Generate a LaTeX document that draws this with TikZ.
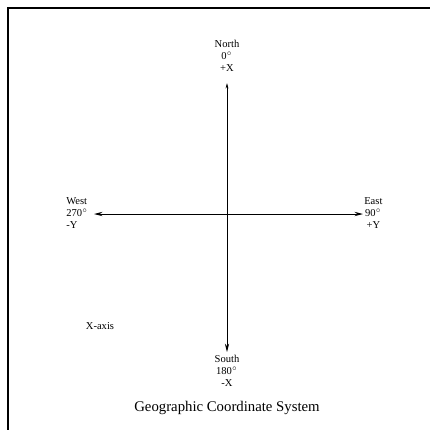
\documentclass[tikz,border=0pt]{standalone}
\usepackage{fontspec}
\setmainfont{Liberation Serif}
\usetikzlibrary{arrows.meta, positioning}

\begin{document}
\begin{tikzpicture}[x=0.025cm, y=-0.025cm, every node/.style={inner sep=0pt, font=\fontsize{7.5}{8.5}\selectfont, align=center}]
  \useasboundingbox (0,0) rectangle (430,430);
  % frame
  \draw[line width=0.8pt] (8,430) -- (8,8) -- (430,8);
  % axis ends
  \coordinate (c) at (227,214);
  \coordinate (n) at (227,83);
  \coordinate (s) at (227,352);
  \coordinate (w) at (94,214);
  \coordinate (e) at (363,214);
  \draw[line width=0.6pt, -{Stealth[length=4pt, width=2pt]}] (c) -- (n);
  \draw[line width=0.6pt, -{Stealth[length=6pt, width=3pt]}] (c) -- (s);
  \draw[line width=0.6pt, -{Stealth[length=6pt, width=3pt]}] (c) -- (w);
  \draw[line width=0.6pt, -{Stealth[length=6pt, width=3pt]}] (c) -- (e);
  % labels
  \node[anchor=south] (north) at (227,72) {North\\0$^{\circ}$\\+X};
  \node[anchor=north] (south) at (227,355) {South\\180$^{\circ}$\\-X};
  \node[anchor=west, align=left] (west) at (66,213) {West\\270$^{\circ}$\\-Y};
  \node[anchor=west] (east) at (364,213) {East\\90$^{\circ}$\\+Y};
  \node (xaxis) at (100,326) {X-axis};
  \node[font=\fontsize{10.5}{12}\selectfont] (title) at (227,408) {Geographic Coordinate System};
\end{tikzpicture}
\end{document}
